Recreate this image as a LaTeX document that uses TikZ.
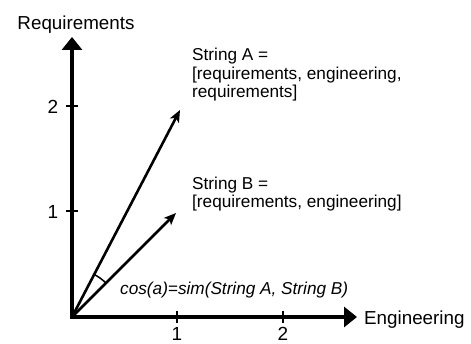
\documentclass[tikz,border=0pt]{standalone}
\usepackage{fontspec}
\setmainfont{Liberation Sans}
\usetikzlibrary{arrows.meta}
\begin{document}
\begin{tikzpicture}[x=1pt,y=-1pt,
  axis/.style={line width=4pt,-{Triangle[length=13pt,width=20pt]}},
  vec/.style={line width=2.6pt,-{Stealth[length=12pt,width=10pt,inset=3pt]}},
  tick/.style={line width=1.5pt},
  axislabel/.style={font=\fontsize{18.8}{20}\selectfont,inner sep=0pt},
  ticklabel/.style={font=\fontsize{19}{20}\selectfont,inner sep=0pt},
  strlabel/.style={font=\fontsize{17.2}{18.5}\selectfont,inner sep=0pt,align=left},
]
\useasboundingbox (0,0) rectangle (471,344);
% origin and vector end points
\coordinate (O) at (72,317);
\coordinate (Oaxis) at (72,319);
\coordinate (Oaxisx) at (70,317);
\coordinate (Ytop) at (72,37);
\coordinate (Xend) at (357,317);
\coordinate (A) at (180,110);
\coordinate (B) at (176,213);
% ticks
\draw[tick] (66,211) -- (78,211);
\draw[tick] (66,106) -- (78,106);
\draw[tick] (177,311) -- (177,323);
\draw[tick] (283,311) -- (283,323);
% axes
\draw[axis] (Oaxis) -- (Ytop);
\draw[axis] (Oaxisx) -- (Xend);
% vectors
\draw[vec] (O) -- (A);
\draw[vec] (O) -- (B);
% angle between the vectors (y axis points down, so angles are negative)
\draw[line width=1.5pt] (O) ++(-45:48) arc[start angle=-45,end angle=-62.4,radius=48];
% labels
\node[axislabel,anchor=base] (ylab) at (76,30) {Requirements};
\node[axislabel,anchor=base west] (xlab) at (364,325) {Engineering};
\node[ticklabel,anchor=base] (y2) at (53,114) {2};
\node[ticklabel,anchor=base] (y1) at (53,219) {1};
\node[ticklabel,anchor=base] (x1) at (177,341) {1};
\node[ticklabel,anchor=base] (x2) at (283,341) {2};
\node[strlabel,anchor=base west] (sa) at (192,98) {String A =\\{[}requirements, engineering,\\requirements{]}};
\node[strlabel,anchor=base west] (sb) at (192,208) {String B =\\{[}requirements, engineering{]}};
\node[strlabel,anchor=base west] (cs) at (120,295) {\itshape cos(a)=sim(String A, String B)};
\end{tikzpicture}
\end{document}
